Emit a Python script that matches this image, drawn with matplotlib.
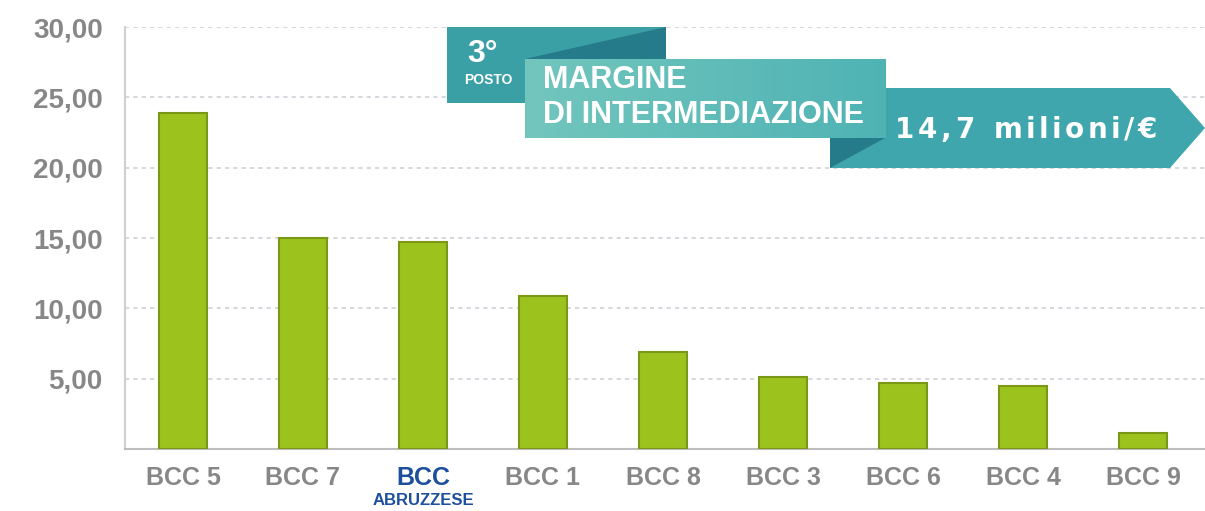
import matplotlib
matplotlib.use('Agg')
import matplotlib.pyplot as plt
from matplotlib.patches import Polygon
from matplotlib.font_manager import FontProperties
from matplotlib.textpath import text_to_path
import numpy as np

banche = ['BCC 5', 'BCC 7', 'BCC', 'BCC 1', 'BCC 8', 'BCC 3', 'BCC 6', 'BCC 4', 'BCC 9']
margine = [23.9, 15.0, 14.7, 10.9, 6.9, 5.1, 4.7, 4.5, 1.15]
yticks = [5, 10, 15, 20, 25, 30]
ytick_labels = ['5,00', '10,00', '15,00', '20,00', '25,00', '30,00']

W, H = 1205, 511
plt.rcParams['font.family'] = ['Liberation Sans', 'DejaVu Sans']

fig = plt.figure(figsize=(W / 100, H / 100), dpi=100)
fig.patch.set_facecolor('white')
ax = fig.add_axes([125 / W, (H - 449) / H, (W - 125) / W, (449 - 27) / H])

x = np.arange(len(banche))
ax.bar(x, margine, width=0.4, color='#9cc21e', edgecolor='#7a9816', linewidth=1.5, zorder=3)

ax.set_xlim(-0.483, 8.517)
ax.set_ylim(0, 30)
ax.set_yticks(yticks)
ax.set_yticklabels(ytick_labels, fontsize=20, fontweight='bold', color='#878787')
ax.set_xticks(x)
ax.set_xticklabels(banche, fontsize=18, fontweight='bold', color='#878787')
ax.tick_params(axis='y', length=0, pad=16)
ax.tick_params(axis='x', length=0, pad=12)
ax.get_xticklabels()[2].set_color('#1d4f9c')
ax.text(2, -0.105, 'ABRUZZESE', transform=ax.get_xaxis_transform(), ha='center', va='top',
        fontsize=12, fontweight='bold', color='#1d4f9c')

ax.yaxis.grid(True, linestyle=(0, (2.5, 2.5)), color='#cfd0d8', linewidth=1.2, zorder=0)
for s in ['top', 'right']:
    ax.spines[s].set_visible(False)
ax.spines['left'].set_color('#d0d0d0')
ax.spines['bottom'].set_color('#bdbdbd')
ax.spines['left'].set_linewidth(1.5)
ax.spines['bottom'].set_linewidth(1.5)


def px(pts):
    return [(a / W, 1 - b / H) for a, b in pts]


# riquadro "3° posto"
fig.patches.append(Polygon(px([(447, 27), (666, 27), (666, 103), (447, 103)]), closed=True,
                           transform=fig.transFigure, facecolor='#3b9fa6', edgecolor='none', zorder=5))
fig.patches.append(Polygon(px([(525, 59), (666, 27), (666, 59)]), closed=True,
                           transform=fig.transFigure, facecolor='#257b89', edgecolor='none', zorder=5))
fig.text(467 / W, 1 - 54 / H, '3°', fontsize=23, fontweight='bold', color='white', va='center', zorder=6)
fig.text(464 / W, 1 - 80 / H, 'POSTO', fontsize=10, fontweight='bold', color='white', va='center', zorder=6)

# freccia "14,7 milioni/€"
fig.patches.append(Polygon(px([(830, 88), (1170, 88), (1205, 128), (1170, 168), (830, 168)]), closed=True,
                           transform=fig.transFigure, facecolor='#40a6ad', edgecolor='none', zorder=5))
fig.patches.append(Polygon(px([(830, 138), (885, 138), (830, 168)]), closed=True,
                           transform=fig.transFigure, facecolor='#257b89', edgecolor='none', zorder=6))
# testo spaziato lettera per lettera
valore = '14,7 milioni/€'
prop = FontProperties(family=['DejaVu Sans'], weight='bold', size=20)
xpos = 895.0
for ch in valore:
    fig.text(xpos / W, 1 - 130 / H, ch, fontproperties=prop, color='white', ha='left', va='center', zorder=7)
    w = text_to_path.get_text_width_height_descent(ch, prop, ismath=False)[0] if ch != ' ' else 9
    xpos += w * 100 / 72 + 3.5

# riquadro "margine di intermediazione" con sfumatura
grad = np.linspace(0, 1, 256).reshape(1, -1)
cmap = matplotlib.colors.LinearSegmentedColormap.from_list('t', ['#72c6bd', '#4fb3b4'])
box = fig.add_axes([525 / W, 1 - 138 / H, (885 - 525) / W, (138 - 59) / H], zorder=8)
box.imshow(grad, aspect='auto', cmap=cmap, extent=[0, 1, 0, 1])
box.set_axis_off()
box.text(0.05, 0.73, 'MARGINE', fontsize=22, fontweight='bold', color='white', va='center',
         transform=box.transAxes)
box.text(0.05, 0.29, 'DI INTERMEDIAZIONE', fontsize=22, fontweight='bold', color='white', va='center',
         transform=box.transAxes)

plt.savefig('out.png', dpi=100)
plt.close(fig)
